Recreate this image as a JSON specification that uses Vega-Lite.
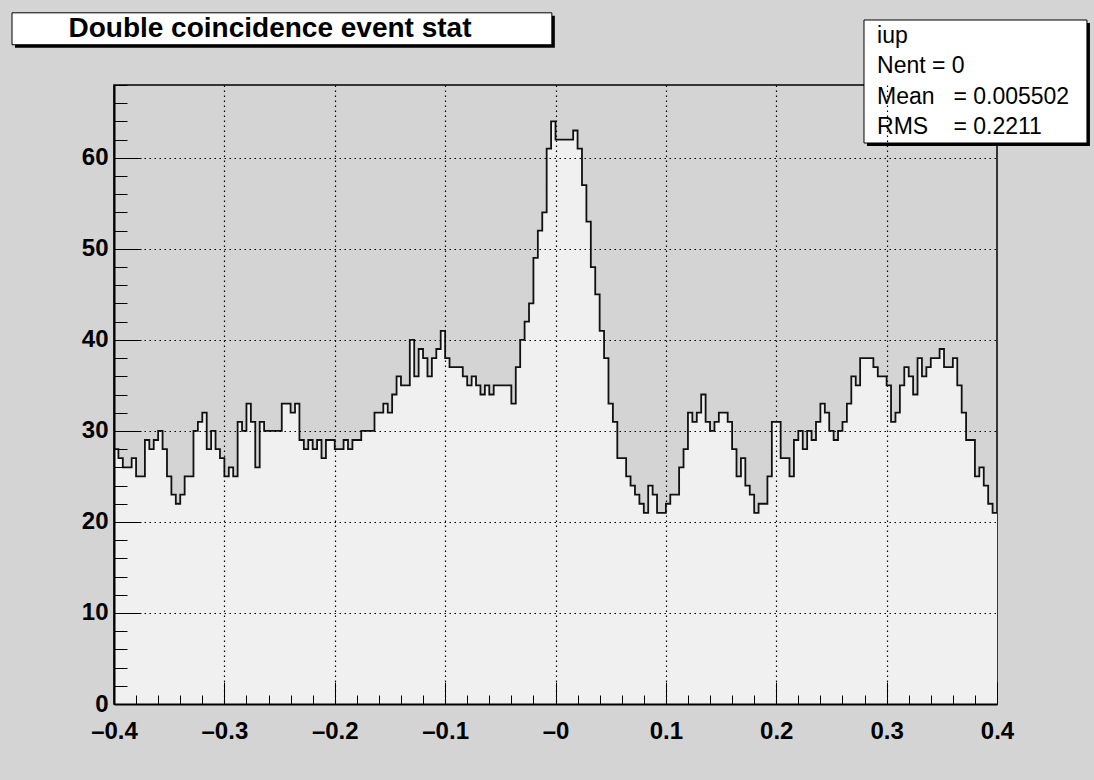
{
  "$schema": "https://vega.github.io/schema/vega-lite/v6.json",
  "width": 883,
  "height": 619,
  "autosize": {"type": "none"},
  "padding": {"left": 114, "top": 85, "right": 97, "bottom": 76},
  "background": "#d4d4d4",
  "config": {
    "view": {"fill": "#d4d4d4", "stroke": "black", "strokeWidth": 1.5},
    "font": "Liberation Sans"
  },
  "layer": [
    {
      "data": {"values": [
        {"x": -0.4, "n": 28}, {"x": -0.396, "n": 27}, {"x": -0.392, "n": 26}, {"x": -0.388, "n": 26}, {"x": -0.384, "n": 27},
        {"x": -0.38, "n": 25}, {"x": -0.376, "n": 25}, {"x": -0.372, "n": 29}, {"x": -0.368, "n": 28}, {"x": -0.364, "n": 29},
        {"x": -0.36, "n": 30}, {"x": -0.356, "n": 28}, {"x": -0.352, "n": 25}, {"x": -0.348, "n": 23}, {"x": -0.344, "n": 22},
        {"x": -0.34, "n": 23}, {"x": -0.336, "n": 25}, {"x": -0.332, "n": 25}, {"x": -0.328, "n": 30}, {"x": -0.324, "n": 31},
        {"x": -0.32, "n": 32}, {"x": -0.316, "n": 28}, {"x": -0.312, "n": 30}, {"x": -0.308, "n": 28}, {"x": -0.304, "n": 27},
        {"x": -0.3, "n": 25}, {"x": -0.296, "n": 26}, {"x": -0.292, "n": 25}, {"x": -0.288, "n": 31}, {"x": -0.284, "n": 30},
        {"x": -0.28, "n": 33}, {"x": -0.276, "n": 31}, {"x": -0.272, "n": 26}, {"x": -0.268, "n": 31}, {"x": -0.264, "n": 30},
        {"x": -0.26, "n": 30}, {"x": -0.256, "n": 30}, {"x": -0.252, "n": 30}, {"x": -0.248, "n": 33}, {"x": -0.244, "n": 33},
        {"x": -0.24, "n": 32}, {"x": -0.236, "n": 33}, {"x": -0.232, "n": 29}, {"x": -0.228, "n": 28}, {"x": -0.224, "n": 29},
        {"x": -0.22, "n": 28}, {"x": -0.216, "n": 29}, {"x": -0.212, "n": 27}, {"x": -0.208, "n": 29}, {"x": -0.204, "n": 29},
        {"x": -0.2, "n": 28}, {"x": -0.196, "n": 28}, {"x": -0.192, "n": 29}, {"x": -0.188, "n": 28}, {"x": -0.184, "n": 29},
        {"x": -0.18, "n": 29}, {"x": -0.176, "n": 30}, {"x": -0.172, "n": 30}, {"x": -0.168, "n": 30}, {"x": -0.164, "n": 32},
        {"x": -0.16, "n": 32}, {"x": -0.156, "n": 33}, {"x": -0.152, "n": 32}, {"x": -0.148, "n": 34}, {"x": -0.144, "n": 36},
        {"x": -0.14, "n": 35}, {"x": -0.136, "n": 35}, {"x": -0.132, "n": 40}, {"x": -0.128, "n": 36}, {"x": -0.124, "n": 39},
        {"x": -0.12, "n": 38}, {"x": -0.116, "n": 36}, {"x": -0.112, "n": 38}, {"x": -0.108, "n": 39}, {"x": -0.104, "n": 41},
        {"x": -0.1, "n": 38}, {"x": -0.096, "n": 37}, {"x": -0.092, "n": 37}, {"x": -0.088, "n": 37}, {"x": -0.084, "n": 36},
        {"x": -0.08, "n": 35}, {"x": -0.076, "n": 36}, {"x": -0.072, "n": 35}, {"x": -0.068, "n": 34}, {"x": -0.064, "n": 35},
        {"x": -0.06, "n": 34}, {"x": -0.056, "n": 35}, {"x": -0.052, "n": 35}, {"x": -0.048, "n": 35}, {"x": -0.044, "n": 35},
        {"x": -0.04, "n": 33}, {"x": -0.036, "n": 37}, {"x": -0.032, "n": 40}, {"x": -0.028, "n": 42}, {"x": -0.024, "n": 44},
        {"x": -0.02, "n": 49}, {"x": -0.016, "n": 52}, {"x": -0.012, "n": 54}, {"x": -0.008, "n": 61}, {"x": -0.004, "n": 64},
        {"x": 0, "n": 62}, {"x": 0.004, "n": 62}, {"x": 0.008, "n": 62}, {"x": 0.012, "n": 62}, {"x": 0.016, "n": 63},
        {"x": 0.02, "n": 61}, {"x": 0.024, "n": 57}, {"x": 0.028, "n": 53}, {"x": 0.032, "n": 48}, {"x": 0.036, "n": 45},
        {"x": 0.04, "n": 41}, {"x": 0.044, "n": 38}, {"x": 0.048, "n": 33}, {"x": 0.052, "n": 31}, {"x": 0.056, "n": 27},
        {"x": 0.06, "n": 27}, {"x": 0.064, "n": 25}, {"x": 0.068, "n": 24}, {"x": 0.072, "n": 23}, {"x": 0.076, "n": 22},
        {"x": 0.08, "n": 21}, {"x": 0.084, "n": 24}, {"x": 0.088, "n": 23}, {"x": 0.092, "n": 21}, {"x": 0.096, "n": 21},
        {"x": 0.1, "n": 22}, {"x": 0.104, "n": 23}, {"x": 0.108, "n": 23}, {"x": 0.112, "n": 26}, {"x": 0.116, "n": 28},
        {"x": 0.12, "n": 32}, {"x": 0.124, "n": 31}, {"x": 0.128, "n": 32}, {"x": 0.132, "n": 34}, {"x": 0.136, "n": 31},
        {"x": 0.14, "n": 30}, {"x": 0.144, "n": 31}, {"x": 0.148, "n": 32}, {"x": 0.152, "n": 32}, {"x": 0.156, "n": 31},
        {"x": 0.16, "n": 28}, {"x": 0.164, "n": 25}, {"x": 0.168, "n": 27}, {"x": 0.172, "n": 24}, {"x": 0.176, "n": 23},
        {"x": 0.18, "n": 21}, {"x": 0.184, "n": 22}, {"x": 0.188, "n": 22}, {"x": 0.192, "n": 25}, {"x": 0.196, "n": 31},
        {"x": 0.2, "n": 31}, {"x": 0.204, "n": 27}, {"x": 0.208, "n": 27}, {"x": 0.212, "n": 25}, {"x": 0.216, "n": 29},
        {"x": 0.22, "n": 30}, {"x": 0.224, "n": 28}, {"x": 0.228, "n": 30}, {"x": 0.232, "n": 29}, {"x": 0.236, "n": 31},
        {"x": 0.24, "n": 33}, {"x": 0.244, "n": 32}, {"x": 0.248, "n": 30}, {"x": 0.252, "n": 29}, {"x": 0.256, "n": 30},
        {"x": 0.26, "n": 31}, {"x": 0.264, "n": 33}, {"x": 0.268, "n": 36}, {"x": 0.272, "n": 35}, {"x": 0.276, "n": 38},
        {"x": 0.28, "n": 38}, {"x": 0.284, "n": 38}, {"x": 0.288, "n": 37}, {"x": 0.292, "n": 36}, {"x": 0.296, "n": 36},
        {"x": 0.3, "n": 35}, {"x": 0.304, "n": 31}, {"x": 0.308, "n": 32}, {"x": 0.312, "n": 35}, {"x": 0.316, "n": 37},
        {"x": 0.32, "n": 36}, {"x": 0.324, "n": 34}, {"x": 0.328, "n": 38}, {"x": 0.332, "n": 36}, {"x": 0.336, "n": 37},
        {"x": 0.34, "n": 38}, {"x": 0.344, "n": 38}, {"x": 0.348, "n": 39}, {"x": 0.352, "n": 37}, {"x": 0.356, "n": 37},
        {"x": 0.36, "n": 38}, {"x": 0.364, "n": 35}, {"x": 0.368, "n": 32}, {"x": 0.372, "n": 29}, {"x": 0.376, "n": 29},
        {"x": 0.38, "n": 25}, {"x": 0.384, "n": 26}, {"x": 0.388, "n": 24}, {"x": 0.392, "n": 22}, {"x": 0.396, "n": 21},
        {"x": 0.4, "n": 21}
      ]},
      "mark": {
        "type": "area",
        "interpolate": "step-after",
        "fill": "#f0f0f0",
        "opacity": 1,
        "fillOpacity": 1,
        "line": {"stroke": "#111111", "strokeWidth": 1.8}
      },
      "encoding": {
        "x": {
          "field": "x", "type": "quantitative",
          "scale": {"domain": [-0.4, 0.4], "nice": false, "zero": false},
          "axis": {
            "title": null,
            "zindex": 1,
            "tickCount": 200,
            "values": [-0.4, -0.38, -0.36, -0.34, -0.32, -0.3, -0.28, -0.26, -0.24, -0.22, -0.2, -0.18, -0.16, -0.14, -0.12, -0.1, -0.08, -0.06, -0.04, -0.02, 0, 0.02, 0.04, 0.06, 0.08, 0.1, 0.12, 0.14, 0.16, 0.18, 0.2, 0.22, 0.24, 0.26, 0.28, 0.3, 0.32, 0.34, 0.36, 0.38, 0.4],
            "domainColor": "black",
            "domainWidth": 2,
            "tickColor": "black",
            "tickWidth": 1,
            "tickSize": {"condition": {"test": "abs(datum.value*10 - round(datum.value*10)) < 0.001", "value": -22}, "value": -9},
            "grid": true,
            "gridColor": "black",
            "gridWidth": 1.2,
            "gridDash": [1.5, 3.5],
            "gridOpacity": {"condition": {"test": "abs(datum.value*10 - round(datum.value*10)) < 0.001 && abs(datum.value) < 0.39", "value": 1}, "value": 0},
            "labelExpr": "abs(datum.value*10 - round(datum.value*10)) < 0.001 ? (abs(datum.value) < 0.001 ? '–0' : (datum.value < 0 ? '–' + format(-datum.value, '.1f') : format(datum.value, '.1f'))) : ''",
            "labelFont": "Liberation Sans",
            "labelFontWeight": "bold",
            "labelFontSize": 24,
            "labelColor": "black",
            "labelPadding": 37,
            "labelFlush": false,
            "labelOverlap": false,
            "labelBound": false
          }
        },
        "y": {
          "field": "n", "type": "quantitative",
          "scale": {"domain": [0, 68], "nice": false},
          "axis": {
            "title": null,
            "zindex": 1,
            "tickCount": 200,
            "values": [0, 2, 4, 6, 8, 10, 12, 14, 16, 18, 20, 22, 24, 26, 28, 30, 32, 34, 36, 38, 40, 42, 44, 46, 48, 50, 52, 54, 56, 58, 60, 62, 64, 66, 68],
            "domainColor": "black",
            "domainWidth": 2,
            "tickColor": "black",
            "tickWidth": 1,
            "tickSize": {"condition": {"test": "datum.value % 10 === 0", "value": -27}, "value": -13},
            "grid": true,
            "gridColor": "black",
            "gridWidth": 1.2,
            "gridDash": [1.5, 3.5],
            "gridOpacity": {"condition": {"test": "datum.value % 10 === 0 && datum.value > 0", "value": 1}, "value": 0},
            "labelExpr": "datum.value % 10 === 0 ? format(datum.value, 'd') : ''",
            "labelFont": "Liberation Sans",
            "labelFontWeight": "bold",
            "labelFontSize": 24,
            "labelColor": "black",
            "labelPadding": 33,
            "labelFlush": false,
            "labelOverlap": false,
            "labelBound": false
          }
        }
      }
    },
    {
      "data": {"values": [{}]},
      "mark": {"type": "rect", "fill": "black"},
      "encoding": {
        "x": {"datum": -0.4897}, "x2": {"datum": -0.0006},
        "y": {"datum": 75.6}, "y2": {"datum": 72.09}
      }
    },
    {
      "data": {"values": [{}]},
      "mark": {"type": "rect", "fill": "white", "stroke": "black", "strokeWidth": 1},
      "encoding": {
        "x": {"datum": -0.4924}, "x2": {"datum": -0.0033},
        "y": {"datum": 75.93}, "y2": {"datum": 72.42}
      }
    },
    {
      "data": {"values": [{}]},
      "mark": {"type": "text", "text": "Double coincidence event stat", "font": "Liberation Sans", "fontWeight": "bold", "fontSize": 28, "align": "center", "baseline": "middle", "color": "black"},
      "encoding": {"x": {"datum": -0.2587}, "y": {"datum": 74.17}}
    },
    {
      "data": {"values": [{}]},
      "mark": {"type": "rect", "fill": "black"},
      "encoding": {
        "x": {"datum": 0.2822}, "x2": {"datum": 0.4842},
        "y": {"datum": 74.81}, "y2": {"datum": 61.3}
      }
    },
    {
      "data": {"values": [{}]},
      "mark": {"type": "rect", "fill": "white", "stroke": "black", "strokeWidth": 1},
      "encoding": {
        "x": {"datum": 0.2795}, "x2": {"datum": 0.4815},
        "y": {"datum": 75.14}, "y2": {"datum": 61.63}
      }
    },
    {
      "data": {"values": [{}]},
      "mark": {"type": "text", "text": "iup", "font": "Liberation Sans", "fontSize": 23, "align": "left", "baseline": "middle", "color": "black"},
      "encoding": {"x": {"datum": 0.2913}, "y": {"datum": 73.38}}
    },
    {
      "data": {"values": [{}]},
      "mark": {"type": "text", "text": "Nent = 0", "font": "Liberation Sans", "fontSize": 23, "align": "left", "baseline": "middle", "color": "black"},
      "encoding": {"x": {"datum": 0.2913}, "y": {"datum": 70.09}}
    },
    {
      "data": {"values": [{}]},
      "mark": {"type": "text", "text": "Mean", "font": "Liberation Sans", "fontSize": 23, "align": "left", "baseline": "middle", "color": "black"},
      "encoding": {"x": {"datum": 0.2913}, "y": {"datum": 66.68}}
    },
    {
      "data": {"values": [{}]},
      "mark": {"type": "text", "text": "= 0.005502", "font": "Liberation Sans", "fontSize": 23, "align": "left", "baseline": "middle", "color": "black"},
      "encoding": {"x": {"datum": 0.3605}, "y": {"datum": 66.68}}
    },
    {
      "data": {"values": [{}]},
      "mark": {"type": "text", "text": "RMS", "font": "Liberation Sans", "fontSize": 23, "align": "left", "baseline": "middle", "color": "black"},
      "encoding": {"x": {"datum": 0.2913}, "y": {"datum": 63.39}}
    },
    {
      "data": {"values": [{}]},
      "mark": {"type": "text", "text": "= 0.2211", "font": "Liberation Sans", "fontSize": 23, "align": "left", "baseline": "middle", "color": "black"},
      "encoding": {"x": {"datum": 0.3605}, "y": {"datum": 63.39}}
    }
  ]
}
